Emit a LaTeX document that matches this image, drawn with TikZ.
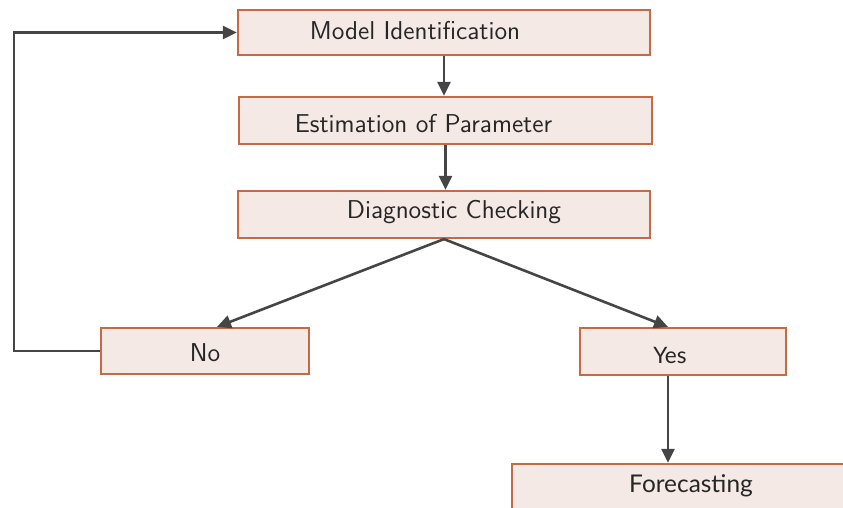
\documentclass[tikz,border=0pt]{standalone}
\usepackage{fontspec}
\newfontfamily\latofont{Lato}
\usetikzlibrary{arrows.meta,calc}
\definecolor{boxfill}{HTML}{F4E9E4}
\definecolor{boxline}{HTML}{C46A45}
\definecolor{lin}{HTML}{454545}
\begin{document}
\begin{tikzpicture}[x=0.5pt,y=-0.5pt,
  box/.style={draw=boxline,fill=boxfill,line width=1.1pt,rectangle,inner sep=0pt},
  txt/.style={font=\sffamily\fontsize{12.9}{15}\selectfont,text=black!85,inner sep=0pt},
  ltxt/.style={font=\latofont\fontsize{11.3}{13}\selectfont,text=black!85,inner sep=0pt},
  conn/.style={draw=lin,line width=1.3pt,-{Triangle[width=6.5pt,length=7pt]}}]
\useasboundingbox (0,0) rectangle (843,508);
\clip (0,0) rectangle (843,508);
\node[box,minimum width=206pt,minimum height=22.5pt] (model) at (444,32.5) {};
\node[box,minimum width=206.5pt,minimum height=23.5pt] (est) at (445.5,120.5) {};
\node[box,minimum width=206pt,minimum height=23.5pt] (diag) at (444,214.5) {};
\node[box,minimum width=104pt,minimum height=23pt] (no) at (205,351) {};
\node[box,minimum width=103pt,minimum height=23.5pt] (yes) at (683,351.5) {};
\node[box,minimum width=174pt,minimum height=23pt] (fc) at (686,487) {};
\node[txt] (tmodel) at (415,31) {Model Identification};
\node[txt] (test) at (423.5,124) {Estimation of Parameter};
\node[txt] (tdiag) at (454,212) {Diagnostic\ Checking};
\node[txt] (tno) at (205,353) {No};
\node[ltxt] (tyes) at (670,355) {Yes};
\node[ltxt,font=\latofont\fontsize{12.2}{14}\selectfont] (tfc) at (691,486) {Forecasting};
\draw[conn] (model.south) -- (est.north -| model.south);
\draw[conn] (est.south) -- (diag.north -| est.south);
\draw[conn] (diag.south) -- ([xshift=6pt]no.north);
\draw[conn] (diag.south) -- ([xshift=-7.5pt]yes.north);
\draw[conn] ([xshift=-7.5pt]yes.south) -- ([xshift=-7.5pt]yes.south |- fc.north);
\draw[conn] (no.west) -- ++(-43pt,0) |- (model.west);
\end{tikzpicture}
\end{document}
